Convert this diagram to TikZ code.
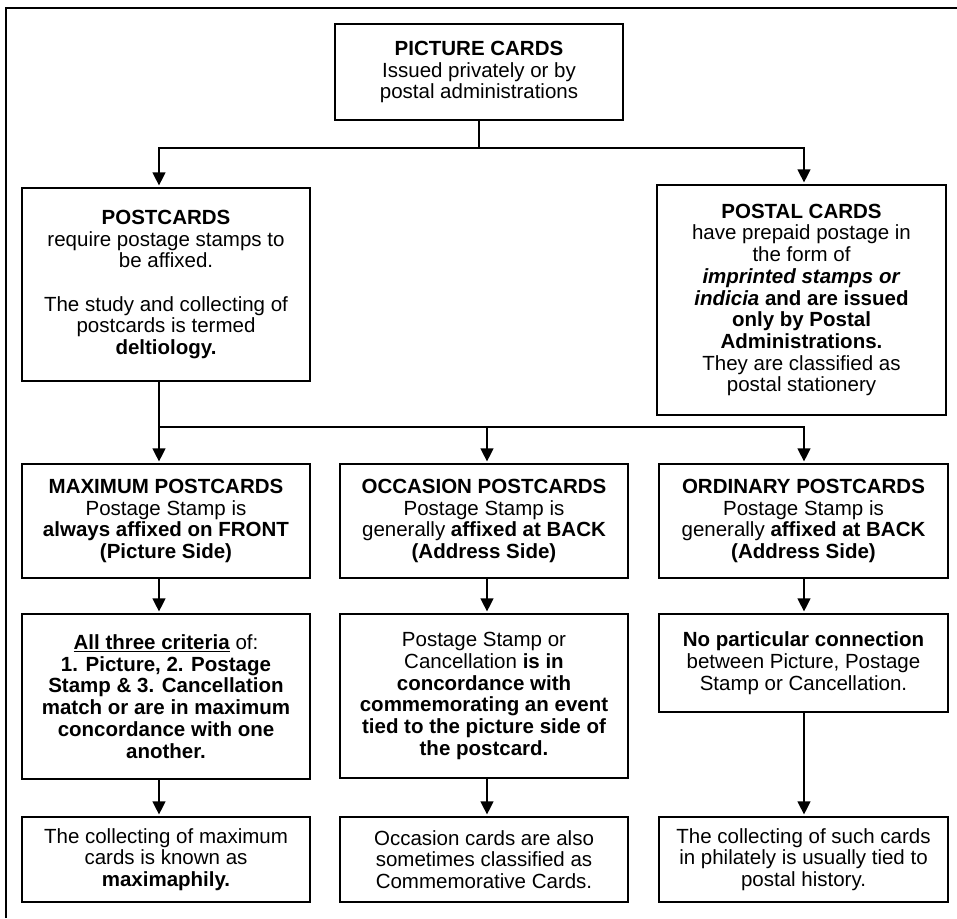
\documentclass[tikz,border=0pt]{standalone}
\usepackage{fontspec}
\setmainfont{Liberation Sans}
\usepackage{xcolor}
\usepackage{tikz}
\usetikzlibrary{arrows.meta,positioning,calc}

\newcommand{\cardfont}{\fontsize{20.5}{21.7}\selectfont}

\begin{document}
\begin{tikzpicture}[x=1pt, y=-1pt, line width=1.2pt,
    card/.style={draw, align=center, inner sep=0pt, minimum width=288pt, font=\cardfont},
    arr/.style={-{Triangle[width=13pt,length=13pt]}, shorten >=2pt}]

      \useasboundingbox (0,0) rectangle (957,918);
      \draw (6,918) -- (6,8) -- (957,8);

      % top
      \node[card, minimum height=96pt] (pic) at (479,72)
        {\textbf{PICTURE CARDS}\\Issued privately or by\\postal administrations};

      % second row
      \node[card, minimum height=193pt] (post) at (166,284.5)
        {\textbf{POSTCARDS}\\require postage stamps to\\be affixed.\\[21.7pt]The study and collecting of\\postcards is termed\\\textbf{deltiology.}};
      \node[card, minimum width=289pt, minimum height=230pt] (postal) at (801.5,300)
        {\textbf{POSTAL CARDS}\\have prepaid postage in\\the form of\\\textbf{\textit{imprinted stamps or}}\\\textbf{\textit{indicia} and are issued}\\\textbf{only by Postal}\\\textbf{Administrations.}\\They are classified as\\postal stationery};

      % third row
      \node[card, minimum height=114pt] (maxc) at (166,521)
        {\textbf{MAXIMUM POSTCARDS}\\Postage Stamp is\\\textbf{always affixed on FRONT}\\\textbf{(Picture Side)}};
      \node[card, minimum height=114pt] (occ) at (484,521)
        {\textbf{OCCASION POSTCARDS}\\Postage Stamp is\\generally \textbf{affixed at BACK}\\\textbf{(Address Side)}};
      \node[card, minimum width=289pt, minimum height=114pt] (ord) at (803.5,521)
        {\textbf{ORDINARY POSTCARDS}\\Postage Stamp is\\generally \textbf{affixed at BACK}\\\textbf{(Address Side)}};

      % fourth row
      \node[card, minimum height=165pt] (maxcrit) at (166,696.5)
        {\underline{\textbf{All three criteria}} of:\\\textbf{1. Picture, 2. Postage}\\\textbf{Stamp \& 3. Cancellation}\\\textbf{match or are in maximum}\\\textbf{concordance with one}\\\textbf{another.}};
      \node[card, minimum height=164pt] (occcrit) at (484,696)
        {Postage Stamp or\\Cancellation \textbf{is in}\\\textbf{concordance with}\\\textbf{commemorating an event}\\\textbf{tied to the picture side of}\\\textbf{the postcard.}};
      \node[card, minimum width=289pt, minimum height=98pt] (ordcrit) at (803.5,663)
        {\textbf{No particular connection}\\between Picture, Postage\\Stamp or Cancellation.};

      % last row
      \node[card, minimum height=85pt] (maxend) at (166,859.5)
        {The collecting of maximum\\cards is known as\\\textbf{maximaphily.}};
      \node[card, minimum height=85pt] (occend) at (484,859.5)
        {Occasion cards are also\\sometimes classified as\\Commemorative Cards.};
      \node[card, minimum width=289pt, minimum height=85pt] (ordend) at (803.5,859.5)
        {The collecting of such cards\\in philately is usually tied to\\postal history.};

      % columns and bus points
      \coordinate (colA) at (159,0);
      \coordinate (colB) at (487,0);
      \coordinate (colC) at (804,0);
      \coordinate (split) at (479,148);
      \coordinate (fork) at (159,427);

      \draw (pic) -- (split);
      \draw[arr] (split) -| (post.north -| colA);
      \draw[arr] (split) -| (postal.north -| colC);

      \draw (post.south -| colA) -- (fork);
      \draw[arr] (fork) -- (maxc.north -| colA);
      \draw[arr] (fork) -| (occ.north -| colB);
      \draw[arr] (fork) -| (ord.north -| colC);

      \draw[arr] (maxc.south -| colA) -- (maxcrit.north -| colA);
      \draw[arr] (occ.south -| colB) -- (occcrit.north -| colB);
      \draw[arr] (ord.south -| colC) -- (ordcrit.north -| colC);

      \draw[arr] (maxcrit.south -| colA) -- (maxend.north -| colA);
      \draw[arr] (occcrit.south -| colB) -- (occend.north -| colB);
      \draw[arr] (ordcrit.south -| colC) -- (ordend.north -| colC);
    \end{tikzpicture}
\end{document}
